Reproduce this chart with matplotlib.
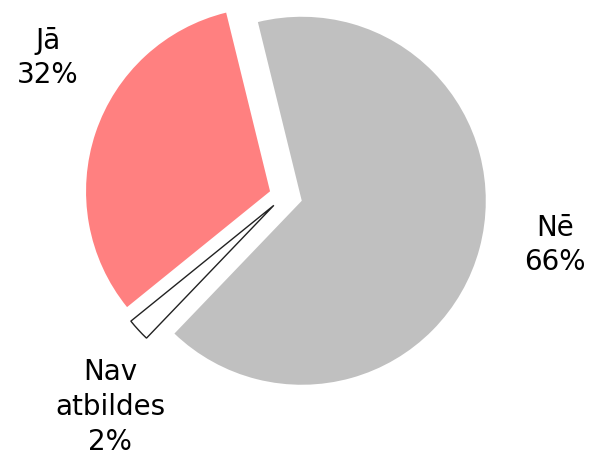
import matplotlib

matplotlib.use("Agg")
import matplotlib.pyplot as plt  # noqa: E402

categories = ["Jā", "Nav\natbildes", "Nē"]
shares = [32, 2, 66]
colors = ["#ff8080", "#ffffff", "#c0c0c0"]
explode = [0.08, 0.075, 0.1]  # fraction of the radius

# label anchor points in pixel space (x, y from top)
label_pos = [(48, 58), (110, 407), (555, 245)]

W, H = 596, 456
R = 184
fig = plt.figure(figsize=(W / 100, H / 100), dpi=100)
ax = fig.add_axes([0, 0, 1, 1])

# matplotlib offsets wedges by explode in data units, so scale by the radius
wedges, _ = ax.pie(
    shares,
    colors=colors,
    explode=[e * R for e in explode],
    startangle=103.8,
    counterclock=True,
    center=(284, H - 197),
    radius=R,
    frame=True,
)
wedges[1].set_edgecolor("#222222")
wedges[1].set_linewidth(1.0)

for name, pct, (x, y) in zip(categories, shares, label_pos):
    ax.text(x, H - y, f"{name}\n{pct}%", ha="center", va="center",
            fontsize=20, color="black", linespacing=1.3)

ax.set_xlim(0, W)
ax.set_ylim(0, H)
ax.set_aspect("equal")
ax.axis("off")

fig.savefig("out.png", dpi=100)
plt.close(fig)
